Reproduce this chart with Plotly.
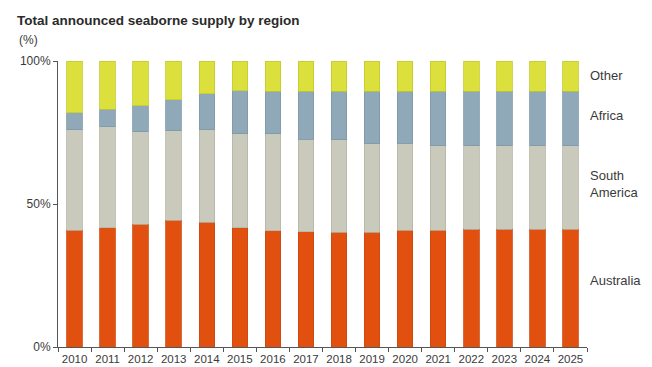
import plotly.graph_objects as go

# Share of total announced seaborne supply, by region (%)
years = [str(y) for y in range(2010, 2026)]
australia = [40.9, 41.7, 42.9, 44.4, 43.6, 41.7, 40.6, 40.3, 40.1, 40.2, 40.9, 40.9, 41.2, 41.2, 41.2, 41.2]
south_america = [35.0, 35.3, 32.4, 31.2, 32.3, 32.8, 33.9, 32.3, 32.3, 30.8, 30.3, 29.4, 29.1, 29.1, 29.1, 29.1]
africa = [6.0, 6.2, 9.1, 10.8, 12.6, 15.1, 14.9, 16.8, 17.0, 18.4, 18.2, 19.1, 19.1, 19.1, 19.1, 19.1]
other = [18.1, 16.8, 15.6, 13.6, 11.5, 10.4, 10.6, 10.6, 10.6, 10.6, 10.6, 10.6, 10.6, 10.6, 10.6, 10.6]

series = [
    ("Australia", australia, "#E1500F", "#CC4710"),
    ("South America", south_america, "#CACABC", "#B4B4A4"),
    ("Africa", africa, "#8FA9B9", "#7D97A7"),
    ("Other", other, "#DCE03C", "#C6CA2C"),
]

FONT = "Liberation Sans, Arial, sans-serif"
TXT = "#3a3a3a"

fig = go.Figure()
for name, vals, fill, edge in series:
    fig.add_trace(go.Bar(
        x=years, y=vals, name=name,
        marker=dict(color=fill, line=dict(color=edge, width=0.8)),
        width=0.47,
        showlegend=False,
    ))

fig.update_layout(
    barmode="stack",
    width=652, height=367,
    margin=dict(l=58, r=65, t=61, b=20, autoexpand=False),
    paper_bgcolor="white", plot_bgcolor="white",
    font=dict(family=FONT, size=12, color=TXT),
    title=dict(
        text="<b>Total announced seaborne supply by region</b>",
        x=17 / 652, xanchor="left", xref="container",
        y=1 - 20 / 367, yanchor="middle", yref="container",
        font=dict(family=FONT, size=13.5, color="#2a2a2a"),
    ),
    xaxis=dict(
        type="category", range=[-0.5, 15.5],
        showline=True, linecolor="#555555", linewidth=1,
        ticks="outside", ticklen=4, tickcolor="#555555",
        tickson="boundaries", showgrid=False,
        tickangle=0, automargin=False,
        ticklabelstandoff=1,
        tickfont=dict(size=11.5, color=TXT),
    ),
    yaxis=dict(
        range=[0, 100],
        tickvals=[0, 50, 100], ticktext=["0%", "50%", "100%"],
        showline=True, linecolor="#555555", linewidth=1,
        ticks="outside", ticklen=4, tickcolor="#555555",
        showgrid=False, zeroline=False, automargin=False,
        tickfont=dict(size=12, color=TXT),
    ),
)

fig.add_annotation(
    text="(%)", xref="paper", yref="paper",
    x=-41 / 529, y=(347 - 40) / 286, xanchor="left", yanchor="middle",
    showarrow=False, font=dict(size=12, color=TXT),
)

# Region labels to the right of the last bar
labels = [("Other", 95.1), ("Africa", 80.9), ("South<br>America", 57.0), ("Australia", 23.4)]
for text, yv in labels:
    fig.add_annotation(
        text=text, xref="paper", yref="y",
        x=1, xshift=1, y=yv, xanchor="left", yanchor="middle", align="left",
        showarrow=False, font=dict(size=13, color=TXT),
    )

fig.write_html("out.html")
